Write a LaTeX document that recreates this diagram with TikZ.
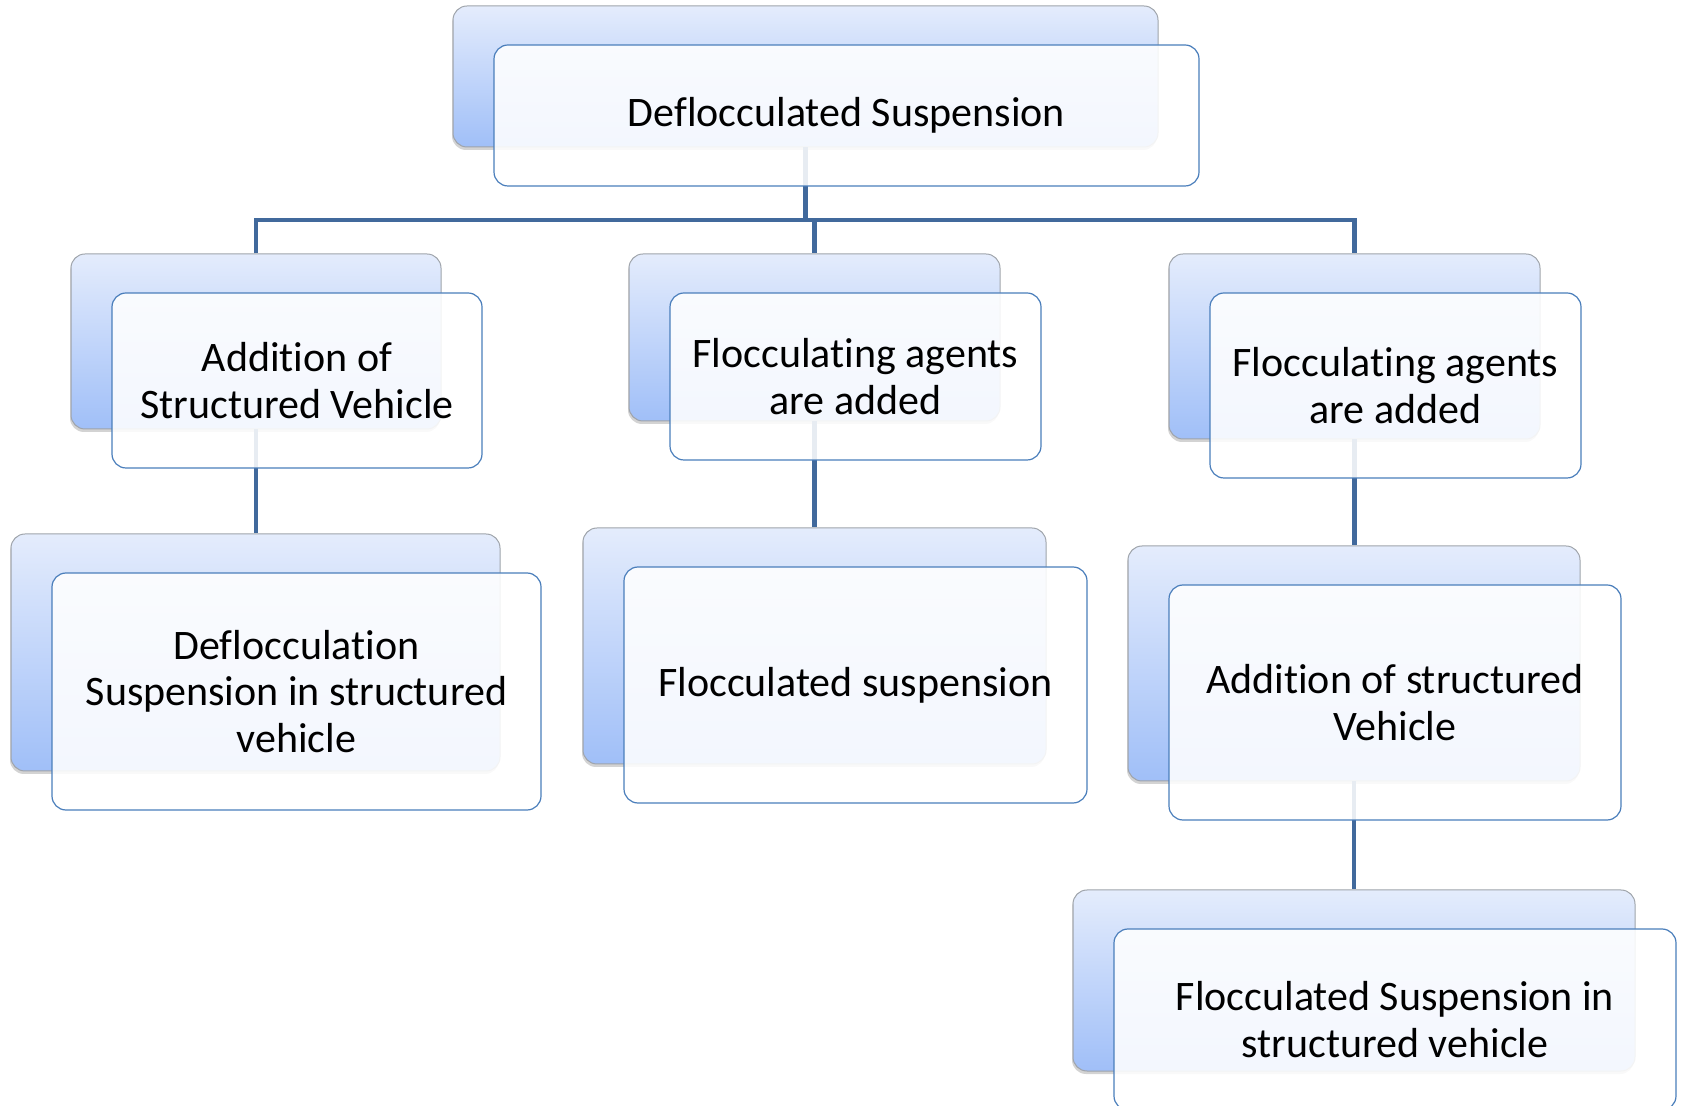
\documentclass[tikz,border=0pt]{standalone}
\usepackage{fontspec}
\setmainfont{Carlito}[Ligatures={NoCommon}]
\usetikzlibrary{shadows}
\definecolor{backtop}{HTML}{E4ECFC}
\definecolor{backbot}{HTML}{A0BFF8}
\definecolor{backline}{HTML}{9FA4AB}
\definecolor{frontline}{HTML}{4A7EBB}
\definecolor{connline}{HTML}{41699C}
\begin{document}
\begin{tikzpicture}[x=0.5pt,y=-0.5pt,
 backbox/.style={rectangle, rounded corners=7pt, top color=backtop, bottom color=backbot, draw=backline, line width=0.5pt, drop shadow={shadow xshift=-0.5pt, shadow yshift=-1.5pt, opacity=0.35}},
 frontbox/.style={rectangle, rounded corners=7pt, draw=frontline, line width=0.6pt, fill=white, fill opacity=0.88, text opacity=1, align=center, font=\fontsize{21}{23.4}\selectfont, inner sep=0pt},
 conn/.style={draw=connline, line width=2.1pt, line join=miter}]
\useasboundingbox (0,0) rectangle (1683,1106);
% back boxes
\node[backbox, minimum width=352.5pt, minimum height=70.5pt] (tb) at (805.5,76.5) {};
\node[backbox, minimum width=185pt, minimum height=87.5pt] (b1) at (256,341.5) {};
\node[backbox, minimum width=185.5pt, minimum height=83.5pt] (b2) at (814.5,337.5) {};
\node[backbox, minimum width=185.5pt, minimum height=92.5pt] (b3) at (1354.5,346.5) {};
\node[backbox, minimum width=244.5pt, minimum height=118.5pt] (d1) at (255.5,652.5) {};
\node[backbox, minimum width=231.5pt, minimum height=118pt] (d2) at (814.5,646) {};
\node[backbox, minimum width=226pt, minimum height=117.5pt] (d3) at (1354,663.5) {};
\node[backbox, minimum width=281pt, minimum height=90.5pt] (e3) at (1354,980.5) {};
% connectors
\coordinate (bus) at (0,220);
\draw[conn] (tb.south) -- (tb.south |- bus);
\draw[conn] (b1.north) -- (b1.north |- bus) -- (b3.north |- bus) -- (b3.north);
\draw[conn] (b2.north |- bus) -- (b2.north);
\draw[conn] (b1.south) -- (b1.south |- d1.north);
\draw[conn] (b2.south) -- (b2.south |- d2.north);
\draw[conn] (b3.south) -- (b3.south |- d3.north);
\draw[conn] (d3.south) -- (d3.south |- e3.north);
% front boxes
\node[frontbox, minimum width=352.5pt, minimum height=70.5pt] (tf) at (846.5,115.5) {Deflocculated Suspension};
\node[frontbox, minimum width=185pt, minimum height=87.5pt] (f1) at (297,380.5) {Addition of\\Structured Vehicle};
\node[frontbox, minimum width=185.5pt, minimum height=83.5pt] (f2) at (855.5,376.5) {Flocculating agents\\are added};
\node[frontbox, minimum width=185.5pt, minimum height=92.5pt] (f3) at (1395.5,385.5) {Flocculating agents\\are added};
\node[frontbox, minimum width=244.5pt, minimum height=118.5pt] (g1) at (296.5,691.5) {Deflocculation\\Suspension in structured\\vehicle};
\node[frontbox, minimum width=231.5pt, minimum height=118pt] (g2) at (855.5,685) {Flocculated suspension};
\node[frontbox, minimum width=226pt, minimum height=117.5pt] (g3) at (1395,702.5) {Addition of structured\\Vehicle};
\node[frontbox, minimum width=281pt, minimum height=90.5pt] (h3) at (1395,1019.5) {Flocculated Suspension in\\structured vehicle};
\end{tikzpicture}
\end{document}
